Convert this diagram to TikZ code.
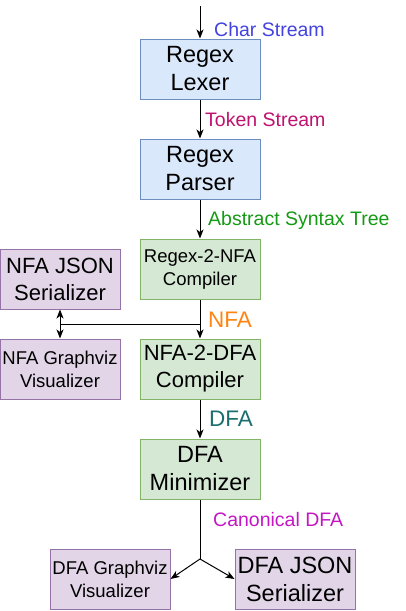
\documentclass[tikz,border=0pt]{standalone}
\usepackage{fontspec}
\setmainfont{Liberation Sans}
\usetikzlibrary{arrows.meta}
\definecolor{bfill}{HTML}{DAE8FC}\definecolor{bline}{HTML}{6C8EBF}
\definecolor{gfill}{HTML}{D5E8D4}\definecolor{gline}{HTML}{82B366}
\definecolor{pfill}{HTML}{E1D5E7}\definecolor{pline}{HTML}{9673A6}
\definecolor{cblue}{HTML}{4343E0}
\definecolor{cred}{HTML}{C0116E}
\definecolor{cgreen}{HTML}{159A15}
\definecolor{corange}{HTML}{FF8411}
\definecolor{cteal}{HTML}{1B6F6F}
\definecolor{cmag}{HTML}{C417C4}
\begin{document}
\begin{tikzpicture}[x=1pt,y=-1pt,
  box/.style={draw, line width=1pt, minimum width=120pt, minimum height=60pt, inner sep=0pt, align=center, text=black},
  bluebox/.style={box, fill=bfill, draw=bline},
  greenbox/.style={box, fill=gfill, draw=gline},
  purplebox/.style={box, fill=pfill, draw=pline},
  big/.style={font=\fontsize{23.5}{28}\selectfont},
  mid/.style={font=\fontsize{22}{27}\selectfont},
  small/.style={font=\fontsize{18.5}{23}\selectfont},
  lab/.style={anchor=west, inner sep=0pt, font=\fontsize{19.5}{23}\selectfont},
  labbig/.style={anchor=west, inner sep=0pt, font=\fontsize{22.5}{26}\selectfont},
  arr/.style={line width=1pt, -{Stealth[length=9pt,width=7pt,inset=2.5pt]}},
  ln/.style={line width=1pt}]
\useasboundingbox (0,0) rectangle (406,611);
\fill[white] (0,0) rectangle (406,611);
\coordinate (top) at (200,6);
\node[bluebox,big] (lex) at (200,69) {Regex\\Lexer};
\node[bluebox,big] (par) at (200,169) {Regex\\Parser};
\node[greenbox,small] (r2n) at (200,269) {Regex-2-NFA\\Compiler};
\node[purplebox,mid] (njson) at (60,279) {NFA JSON\\Serializer};
\node[purplebox,small] (nviz) at (60,369) {NFA Graphviz\\Visualizer};
\node[greenbox,mid] (n2d) at (200,369) {NFA-2-DFA\\Compiler};
\node[greenbox,big] (min) at (200,469) {DFA\\Minimizer};
\node[purplebox,small] (dviz) at (110,579) {DFA Graphviz\\Visualizer};
\node[purplebox,big] (djson) at (295,579) {DFA JSON\\Serializer};
\node[lab,text=cblue] (l1) at (214,30) {Char Stream};
\node[lab,text=cred] (l2) at (205,120) {Token Stream};
\node[lab,text=cgreen] (l3) at (208,220) {Abstract Syntax Tree};
\node[labbig,text=corange] (l4) at (208,320) {NFA};
\node[labbig,text=cteal] (l5) at (209,419) {DFA};
\node[lab,text=cmag] (l6) at (213,520) {Canonical DFA};
\coordinate (j) at (200,324);
\coordinate (k) at (60,324);
\coordinate (b) at (200,559);
\draw[arr] (top) -- (lex.north);
\draw[arr] (lex.south) -- (par.north);
\draw[arr] (par.south) -- (r2n.north);
\draw[arr] (r2n.south) -- (n2d.north);
\draw[ln] (j) -- (k);
\draw[arr] (k) -- (njson.south);
\draw[arr] (k) -- (nviz.north);
\draw[arr] (n2d.south) -- (min.north);
\draw[ln] (min.south) -- (b);
\draw[arr] (b) -- (dviz.east);
\draw[arr] (b) -- (djson.west);
\end{tikzpicture}
\end{document}
